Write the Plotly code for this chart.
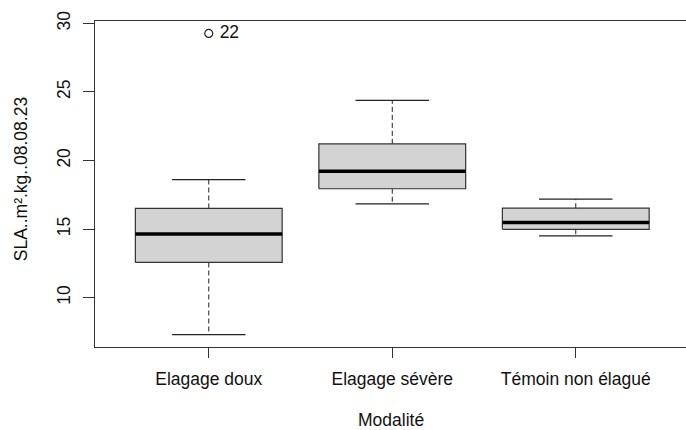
import plotly.graph_objects as go

# Box-plot summary per treatment (SLA, m²/kg, 08.08.23)
categories = ["Elagage doux", "Elagage sévère", "Témoin non élagué"]
whisker_low = [7.29, 16.84, 14.50]
q1 = [12.56, 17.94, 14.98]
median = [14.64, 19.21, 15.47]
q3 = [16.50, 21.21, 16.52]
whisker_high = [18.60, 24.39, 17.18]

# Outliers: (category index, value, label)
outlier_group = [0]
outlier_value = [29.27]
outlier_label = ["22"]

y_ticks = [10, 15, 20, 25, 30]

FONT = "Liberation Sans, Arial, sans-serif"
FS = 17.5
BOX_HALF = 0.4
CAP_HALF = 0.2
EDGE = "#333333"

fig = go.Figure()
pos = [i + 1 for i in range(len(categories))]

for x, lo, a, m, b, hi in zip(pos, whisker_low, q1, median, q3, whisker_high):
    # dashed whiskers
    fig.add_trace(go.Scatter(
        x=[x, x, None, x, x], y=[b, hi, None, a, lo], mode="lines",
        line=dict(color="#222222", width=1, dash="5px,3px"),
        hoverinfo="skip", showlegend=False))
    # whisker caps
    fig.add_trace(go.Scatter(
        x=[x - CAP_HALF, x + CAP_HALF, None, x - CAP_HALF, x + CAP_HALF],
        y=[hi, hi, None, lo, lo], mode="lines",
        line=dict(color="#222222", width=1.2),
        hoverinfo="skip", showlegend=False))
    # box body
    fig.add_trace(go.Scatter(
        x=[x - BOX_HALF, x + BOX_HALF, x + BOX_HALF, x - BOX_HALF, x - BOX_HALF],
        y=[a, a, b, b, a], mode="lines", fill="toself",
        fillcolor="#D3D3D3", line=dict(color=EDGE, width=1.2),
        hoverinfo="skip", showlegend=False))
    # median
    fig.add_trace(go.Scatter(
        x=[x - BOX_HALF, x + BOX_HALF], y=[m, m], mode="lines",
        line=dict(color="#000000", width=3.5),
        hoverinfo="skip", showlegend=False))

fig.add_trace(go.Scatter(
    x=[pos[g] for g in outlier_group], y=outlier_value,
    mode="markers+text", text=[" " + t for t in outlier_label],
    textposition="middle right",
    textfont=dict(family=FONT, size=FS, color="#111111"),
    marker=dict(symbol="circle-open", size=8, color="#222222",
                line=dict(width=1.2, color="#222222")),
    hoverinfo="skip", showlegend=False))

fig.update_layout(
    width=686, height=430,
    margin=dict(l=95, r=0, t=21, b=83),
    paper_bgcolor="white", plot_bgcolor="white",
    font=dict(family=FONT, size=FS, color="#111111"),
    showlegend=False,
    xaxis=dict(
        range=[0.38, 3.6007], tickvals=pos, ticktext=categories,
        showgrid=False, zeroline=False,
        showline=True, mirror=True, linecolor=EDGE, linewidth=1.2,
        ticks="outside", ticklen=10, tickcolor=EDGE, tickwidth=1.2,
        tickfont=dict(family=FONT, size=FS, color="#111111"),
        ticklabelstandoff=6,
    ),
    yaxis=dict(
        range=[6.39, 30.18], tickvals=y_ticks,
        showgrid=False, zeroline=False,
        showline=True, mirror=False, linecolor=EDGE, linewidth=1.2,
        ticks="outside", ticklen=11, tickcolor=EDGE, tickwidth=1.2,
        tickangle=-90,
        tickfont=dict(family=FONT, size=FS, color="#111111"),
        ticklabelstandoff=6,
    ),
    annotations=[
        dict(text="Modalité", xref="paper", yref="paper",
             x=0.5, y=-0.224, xanchor="center", yanchor="middle",
             showarrow=False, font=dict(family=FONT, size=FS, color="#111111")),
        dict(text="SLA..m².kg..08.08.23", xref="paper", yref="paper",
             x=-0.125, y=0.515, xanchor="center", yanchor="middle", textangle=-90,
             showarrow=False, font=dict(family=FONT, size=FS, color="#111111")),
    ],
)

fig.write_html("out.html")
